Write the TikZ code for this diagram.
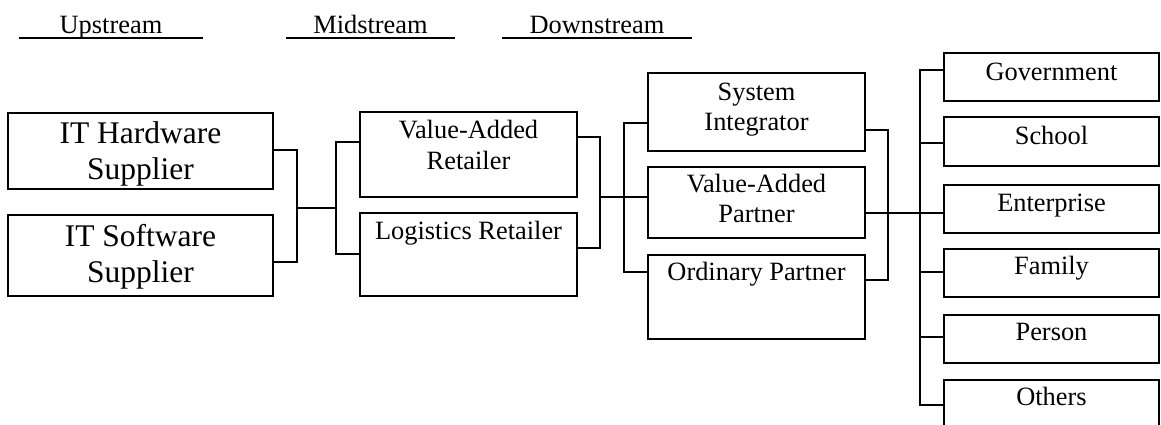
\documentclass[tikz,border=0pt]{standalone}
\usepackage{fontspec}
\setmainfont{Liberation Serif}
\newcommand\mkbox[5]{\node[box, minimum width={(#4-#2)*1pt}, minimum height={(#5-#3)*1pt}] (#1) at ({(#2+#4)/2},{(#3+#5)/2}) {};}
\begin{document}
\begin{tikzpicture}[x=1pt,y=-1pt,
  box/.style={draw, line width=1.8pt, inner sep=0pt},
  conn/.style={line width=1.8pt},
  big/.style={font=\fontsize{31.5}{36}\selectfont, inner sep=0pt, anchor=base},
  txt/.style={font=\fontsize{26.4}{30}\selectfont, inner sep=0pt, anchor=base}]
\clip (0,0) rectangle (1161,424);
% headers
\node[txt] (up) at (111,33) {Upstream};
\node[txt] (mid) at (370.5,33) {Midstream};
\node[txt] (down) at (597,33) {Downstream};
\draw[conn] (19,38) -- (203,38);
\draw[conn] (286,38) -- (455,38);
\draw[conn] (502,38) -- (692,38);
% boxes
\mkbox{hw}{8}{113}{273}{189}
\mkbox{sw}{8}{215}{273}{296}
\mkbox{var}{360}{112}{577}{197}
\mkbox{lr}{360}{213}{577}{296}
\mkbox{si}{648}{73}{865}{151}
\mkbox{vap}{648}{167}{865}{238}
\mkbox{op}{648}{255}{865}{339}
\mkbox{gov}{944}{53}{1159}{101}
\mkbox{sch}{944}{117}{1159}{166}
\mkbox{ent}{944}{185}{1159}{233}
\mkbox{fam}{944}{249}{1159}{297}
\mkbox{per}{944}{315}{1159}{363}
\mkbox{oth}{944}{380}{1159}{440}
% texts
\node[big] (hw1) at (140.5,143) {IT Hardware};
\node[big] (hw2) at (140.5,179) {Supplier};
\node[big] (sw1) at (140.5,246) {IT Software};
\node[big] (sw2) at (140.5,282) {Supplier};
\node[txt] (var1) at (468.5,138) {Value-Added};
\node[txt] (var2) at (468.5,169) {Retailer};
\node[txt] (lr1) at (468.5,239) {Logistics Retailer};
\node[txt] (si1) at (756.5,100) {System};
\node[txt] (si2) at (756.5,130) {Integrator};
\node[txt] (vap1) at (756.5,192) {Value-Added};
\node[txt] (vap2) at (756.5,222) {Partner};
\node[txt] (op1) at (756.5,280) {Ordinary Partner};
\node[txt] (gov1) at (1051.5,80) {Government};
\node[txt] (sch1) at (1051.5,144) {School};
\node[txt] (ent1) at (1051.5,211) {Enterprise};
\node[txt] (fam1) at (1051.5,274) {Family};
\node[txt] (per1) at (1051.5,340) {Person};
\node[txt] (oth1) at (1051.5,405) {Others};
% junctions
\coordinate (j1) at (297,208);
\coordinate (j1b) at (336,208);
\coordinate (j2) at (600,197);
\coordinate (j2b) at (624,197);
\coordinate (j3) at (888,213);
\coordinate (j4) at (920,213);
% connectors
\draw[conn] (hw.east |- 0,150) -| (j1) |- (sw.east |- 0,262);
\draw[conn] (j1) -- (j1b);
\draw[conn] (var.west |- 0,142) -| (j1b) |- (lr.west |- 0,254);
\draw[conn] (var.east |- 0,137) -| (j2) |- (lr.east |- 0,248);
\draw[conn] (j2) -- (vap.west |- j2);
\draw[conn] (si.west |- 0,123) -| (j2b) |- (op.west |- 0,272);
\draw[conn] (si.east |- 0,130) -| (j3) |- (op.east |- 0,280);
\draw[conn] (vap.east |- j3) -- (ent.west |- j3);
\draw[conn] (gov.west |- 0,70) -| (j4) |- (oth.west |- 0,405);
\draw[conn] (sch.west |- 0,143) -- (j4 |- 0,143);
\draw[conn] (fam.west |- 0,272) -- (j4 |- 0,272);
\draw[conn] (per.west |- 0,337) -- (j4 |- 0,337);
\end{tikzpicture}
\end{document}
